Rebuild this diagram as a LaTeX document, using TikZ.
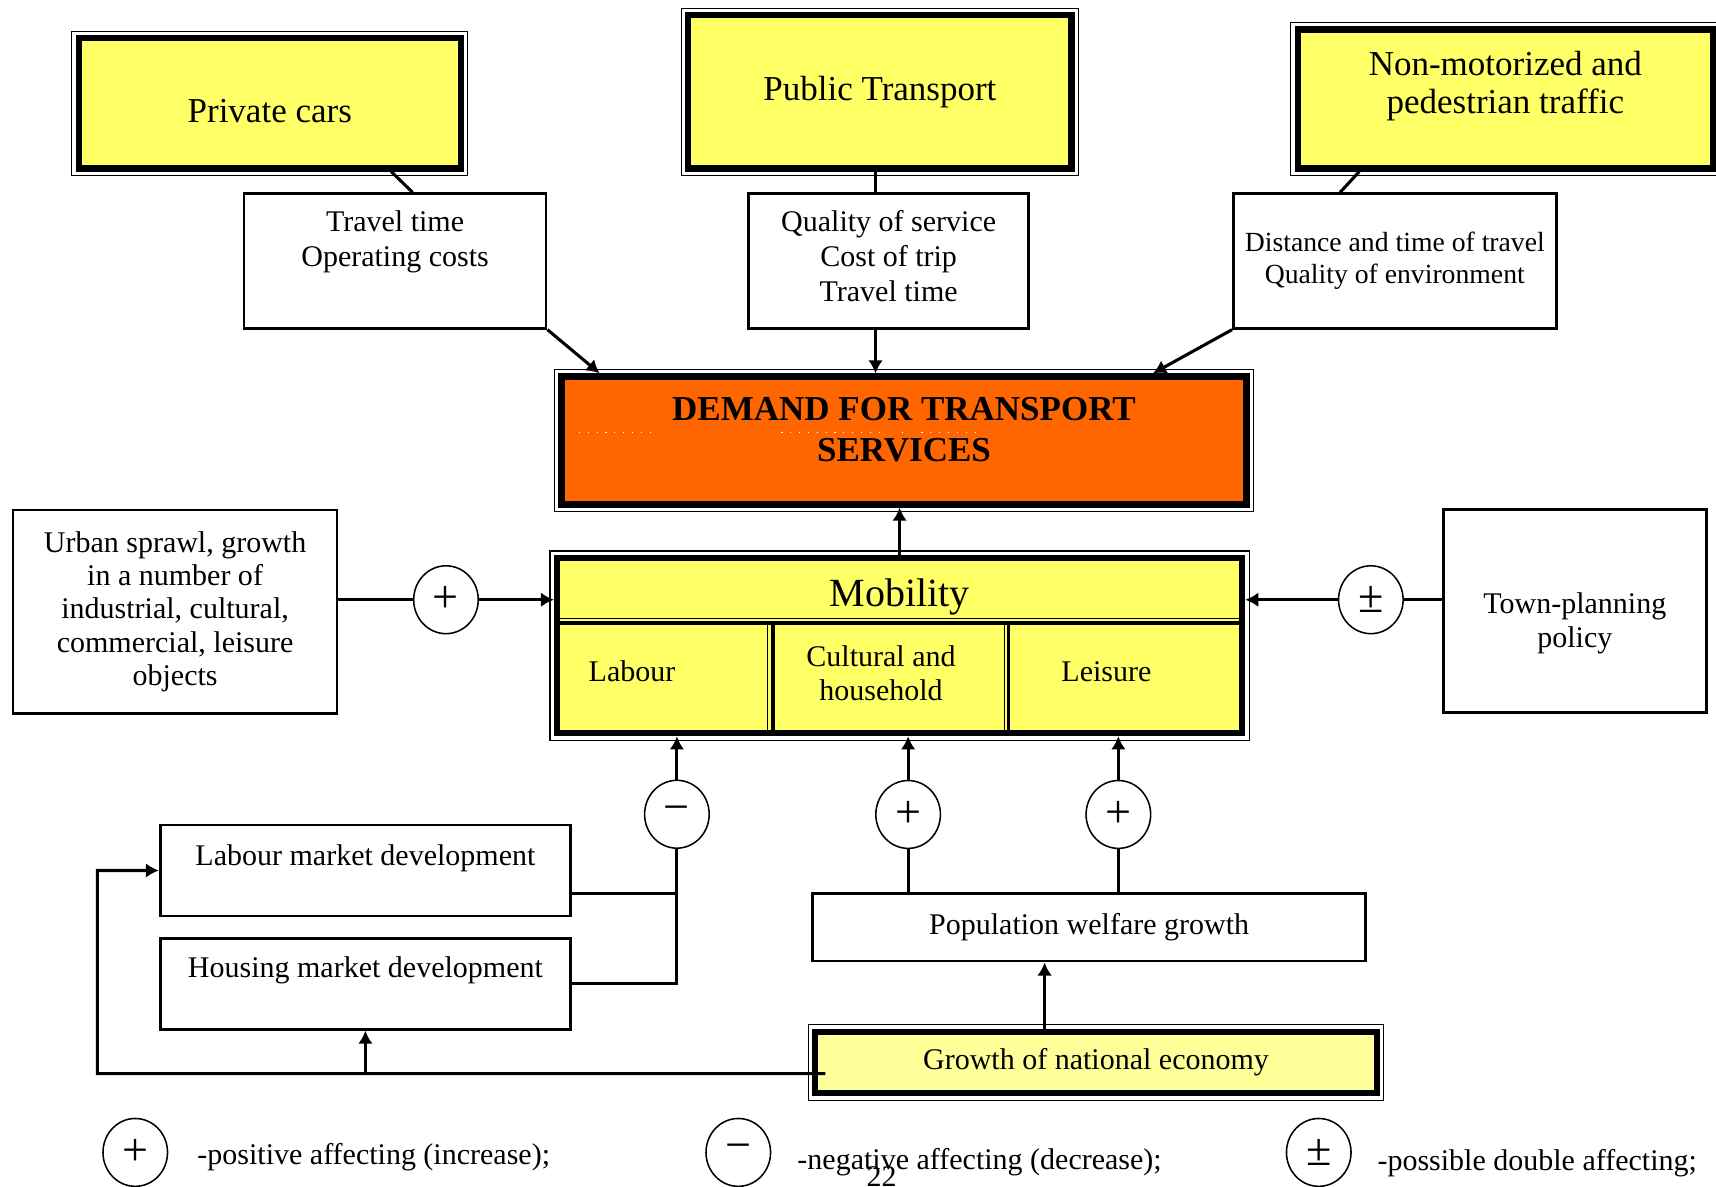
\documentclass[tikz,border=0pt]{standalone}
\usepackage{fontspec}
\setmainfont{Liberation Serif}
\usetikzlibrary{arrows.meta,shapes.geometric}

\definecolor{boxyellow}{HTML}{FFFF66}
\definecolor{paleyellow}{HTML}{FFFF99}
\definecolor{demandorange}{HTML}{FF6600}

\tikzset{
  mainbox/.style = {draw , line width=1.6pt , inner sep=0pt ,
    preaction={draw , line width=4pt} , preaction={draw=white , line width=3.4pt}} ,
  factbox/.style = {draw , line width=0.7pt , inner sep=0pt , align=center ,
    font=\fontsize{7.8}{9}\selectfont} ,
  txt/.style = {inner sep=0pt , align=center , font=\fontsize{7.8}{9}\selectfont} ,
  bigtxt/.style = {inner sep=0pt , align=center , font=\fontsize{9.1}{10.5}\selectfont} ,
  sign/.style = {draw , ellipse , line width=0.4pt , inner sep=0pt ,
    minimum width=5.9mm , minimum height=6.2mm , font=\fontsize{12}{13}\selectfont} ,
  link/.style = {line width=0.8pt} ,
  arr/.style = {line width=0.8pt , -{Latex[length=3.4pt,width=3.8pt]}} ,
}

\begin{document}
\begin{tikzpicture}
\useasboundingbox (0,0) rectangle (15.68,10.84) ;

% transport modes
\node[mainbox , fill=boxyellow , minimum width=3.49cm , minimum height=1.19cm] (pc) at (2.465,9.895) {} ;
\node[bigtxt] (pcl) at ([yshift=-0.73mm]pc.center) {Private cars} ;
\node[mainbox , fill=boxyellow , minimum width=3.50cm , minimum height=1.40cm , font=\fontsize{9.1}{10.5}\selectfont] (pt) at (8.04,10.00) {Public Transport} ;
\node[mainbox , fill=boxyellow , minimum width=3.79cm , minimum height=1.27cm] (nm) at (13.755,9.935) {} ;
\node[bigtxt , font=\fontsize{9.1}{10}\selectfont] (nml) at ([yshift=1.2mm]nm.center) {Non-motorized and\\pedestrian traffic} ;

% factors of the modes
\node[factbox , minimum width=2.76cm , minimum height=1.23cm] (tt) at (3.61,8.455) {} ;
\node[txt , anchor=north] (ttl) at ([yshift=-1.6mm]tt.north) {Travel time\\Operating costs} ;
\node[factbox , minimum width=2.56cm , minimum height=1.23cm] (qs) at (8.12,8.455) {} ;
\node[txt , anchor=north] (qsl) at ([yshift=-1.6mm]qs.north) {Quality of service\\Cost of trip\\Travel time} ;
\node[factbox , minimum width=2.95cm , minimum height=1.23cm , font=\fontsize{7.2}{8.3}\selectfont] (dt) at (12.745,8.455) {Distance and time of travel\\Quality of environment} ;

\draw[link] ([xshift=1.11cm]pc.south) -- ([xshift=1.6mm]tt.north) ;
\draw[link] ([xshift=-0.4mm]pt.south) -- ([xshift=-0.4mm]pt.south |- qs.north) ;
\draw[link] ([xshift=-1.335cm]nm.south) -- ([xshift=-5mm]dt.north) ;

% demand
\node[mainbox , fill=demandorange , minimum width=6.26cm , minimum height=1.17cm] (dm) at (8.26,6.815) {} ;
\foreach \a/\b in {5.29/5.96,7.14/8.08,8.24/8.26,8.42/8.96}
  \draw[white , dotted , line width=0.3pt] (\a,6.886) -- (\b,6.886) ;
\node[bigtxt , font=\bfseries\fontsize{9.1}{10.6}\selectfont] (dml) at ([yshift=1mm]dm.center) {DEMAND FOR TRANSPORT\\SERVICES} ;

\draw[arr] (tt.south east) -- ([xshift=-2.78cm]dm.north) ;
\draw[arr] ([xshift=-1.2mm]qs.south) -- ([xshift=-1.2mm]qs.south |- dm.north) ;
\draw[arr] (dt.south west) -- ([xshift=2.275cm]dm.north) ;

% mobility
\node[mainbox , fill=boxyellow , minimum width=6.26cm , minimum height=1.60cm] (mo) at (8.22,4.94) {} ;
\draw[line width=0.35pt] (5.09,5.19) -- (11.35,5.19) ;
\draw[line width=1pt] (5.09,5.15) -- (11.35,5.15) ;
\foreach \a/\b in {7.01/7.065,9.18/9.215} {
  \draw[line width=0.35pt] (\a,5.15) -- (\a,4.14) ;
  \draw[line width=1pt] (\b,5.15) -- (\b,4.14) ;
}
\node[inner sep=0pt , font=\fontsize{10.4}{12}\selectfont] (mol) at (8.22,5.382) {Mobility} ;
\node[txt] (lab) at (5.775,4.704) {Labour} ;
\node[txt] (cul) at (8.05,4.69) {Cultural and\\household} ;
\node[txt] (lei) at (10.11,4.704) {Leisure} ;

\draw[arr] (mo.north) -- (mo.north |- dm.south) ;

% side influences
\node[factbox , font=\fontsize{7.8}{8.7}\selectfont , minimum width=2.96cm , minimum height=1.86cm] (us) at (1.60,5.25) {Urban sprawl, growth\\in a number of\\industrial, cultural,\\commercial, leisure\\objects} ;
\node[factbox , minimum width=2.40cm , minimum height=1.855cm] (tp) at (14.39,5.259) {} ;
\node[txt , font=\fontsize{7.8}{8.7}\selectfont] (tpl) at ([yshift=-1.13mm]tp.center) {Town-planning\\policy} ;

\node[sign] (c1) at (4.075,5.36) {+} ;
\node[sign] (c2) at (12.526,5.36) {±} ;

\draw[link] (c1.west -| us.east) -- (c1.west) ;
\draw[arr] (c1.east) -- (c1.east -| mo.west) ;
\draw[link] (c2.east -| tp.west) -- (c2.east) ;
\draw[arr] (c2.west) -- (c2.west -| mo.east) ;

% lower influences
\node[sign] (c3) at (6.185,3.40) {−} ;
\node[sign] (c4) at (8.298,3.398) {+} ;
\node[sign] (c5) at (10.219,3.398) {+} ;

\node[factbox , minimum width=3.75cm , minimum height=0.83cm] (lm) at (3.339,2.886) {} ;
\node[txt , anchor=north] (lml) at ([yshift=-1.8mm]lm.north) {Labour market development} ;
\node[factbox , minimum width=3.75cm , minimum height=0.83cm] (hm) at (3.339,1.85) {} ;
\node[txt , anchor=north] (hml) at ([yshift=-1.7mm]hm.north) {Housing market development} ;
\node[factbox , minimum width=5.05cm , minimum height=0.62cm] (pw) at (9.952,2.368) {Population welfare growth} ;
\node[mainbox , fill=paleyellow , minimum width=5.13cm , minimum height=0.56cm , font=\fontsize{7.8}{9}\selectfont] (gn) at (10.015,1.13) {Growth of national economy} ;

\draw[arr] (c3.north) -- (c3.north |- mo.south) ;
\draw[link] (hm.east) -| (c3.south) ;
\draw[link] ([yshift=-2.1mm]lm.east) -- ([yshift=-2.1mm]lm.east -| c3.south) ;
\foreach \s in {c4,c5} {
  \draw[arr] (\s.north) -- (\s.north |- mo.south) ;
  \draw[link] (\s.south) -- (\s.south |- pw.north) ;
}
\draw[arr] ([xshift=-4.7mm]gn.north) -- ([xshift=-4.7mm]gn.north |- pw.south) ;

\coordinate (fb) at ([xshift=1.2mm , yshift=-1mm]gn.west) ;
\coordinate (fbc) at (0.89,1.03) ;
\draw[arr] (fb) -- (fbc) |- (lm.west) ;
\draw[arr] (fb -| hm.south) -- (hm.south) ;

% legend
\node[sign] (lp) at (1.236,0.31) {+} ;
\node[sign] (ln) at (6.746,0.31) {−} ;
\node[sign] (lpm) at (12.05,0.31) {±} ;
\node[txt , anchor=base west] (lpt) at (1.797,0.196) {-positive affecting (increase);} ;
\node[txt , anchor=base west] (lnt) at (7.28,0.15) {-negative affecting (decrease);} ;
\node[txt , anchor=base west] (lpmt) at (12.58,0.145) {-possible double affecting;} ;
\node[txt , anchor=base] (pg) at (8.055,0.0) {22} ;

\end{tikzpicture}
\end{document}
